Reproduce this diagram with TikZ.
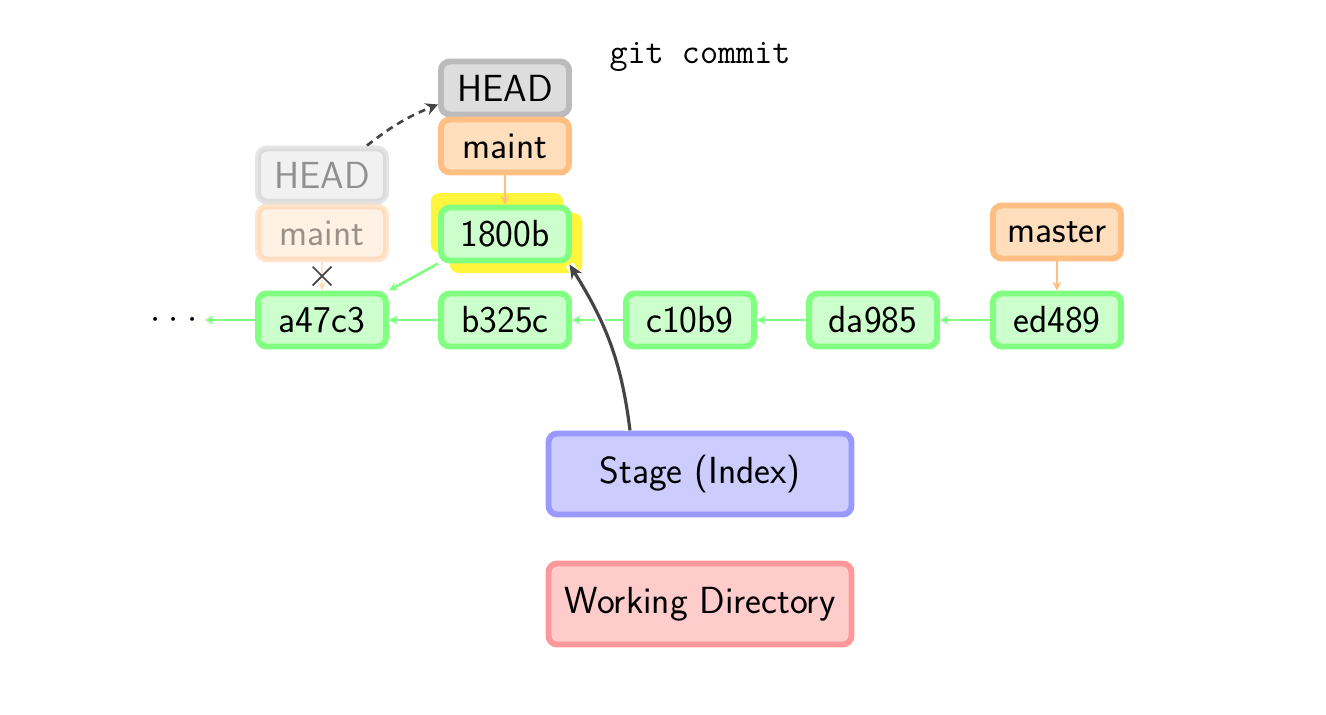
\documentclass[tikz,border=0pt]{standalone}
\usepackage{fontspec}
\usetikzlibrary{arrows.meta,shapes.misc}

\definecolor{commitline}{RGB}{128,255,128}
\definecolor{commitfill}{RGB}{204,255,204}
\definecolor{branchline}{RGB}{255,190,130}
\definecolor{branchfill}{RGB}{255,222,190}
\definecolor{headline}{RGB}{187,187,187}
\definecolor{headfill}{RGB}{221,221,221}
\definecolor{stageline}{RGB}{153,153,255}
\definecolor{stagefill}{RGB}{204,204,255}
\definecolor{workline}{RGB}{255,153,153}
\definecolor{workfill}{RGB}{255,204,204}
\definecolor{glowyellow}{RGB}{255,245,60}
\definecolor{darkarrow}{RGB}{68,68,68}

\tikzset{
    commit/.style={draw=commitline, fill=commitfill, line width=3.4pt, rounded corners=5pt,
        minimum width=2.56cm, minimum height=1.06cm, font=\sffamily\fontsize{21.5}{24}\selectfont},
    branch/.style={commit, draw=branchline, fill=branchfill},
    headbox/.style={commit, draw=headline, fill=headfill},
    glow/.style={fill=glowyellow, rounded corners=5pt, minimum width=2.65cm, minimum height=1.2cm},
    area/.style={commit, minimum width=6.06cm, minimum height=1.62cm},
    parentarrow/.style={-{Stealth[length=5pt,width=5pt]}, draw=commitline, line width=1.5pt},
    brancharrow/.style={-{Stealth[length=5pt,width=5pt]}, draw=branchline, line width=1.5pt},
}

\begin{document}
\begin{tikzpicture}
    \useasboundingbox (0,0) rectangle (26.52,-14.28);

    % === 指令 ===
    \node[font=\ttfamily\fontsize{20}{22}\selectfont] (cmd) at (14.0,-1.14) {git commit};

    % === 新 commit 的黃色光暈 ===
    \node[glow] (glowa) at (9.94,-4.46) {};
    \node[glow] (glowb) at (10.32,-4.86) {};

    % === commit 鏈 ===
    \node[commit] (a47c3) at (6.44,-6.40) {a47c3};
    \node[commit] (b325c) at (10.10,-6.40) {b325c};
    \node[commit] (c10b9) at (13.80,-6.40) {c10b9};
    \node[commit] (da985) at (17.46,-6.40) {da985};
    \node[commit] (ed489) at (21.14,-6.40) {ed489};
    \node[commit] (c1800b) at (10.10,-4.68) {1800b};
    \node[font=\fontsize{21}{24}\selectfont] (dots) at (3.48,-6.40)
        {$\cdot$\hspace{5pt}$\cdot$\hspace{5pt}$\cdot$};
    \coordinate (dotsend) at (4.10,-6.40);

    \draw[parentarrow] (a47c3) -- (dotsend);
    \draw[parentarrow] (b325c) -- (a47c3);
    \draw[parentarrow] (c10b9) -- (b325c);
    \draw[parentarrow] (da985) -- (c10b9);
    \draw[parentarrow] (ed489) -- (da985);
    \draw[parentarrow] (c1800b.south west) -- (a47c3.north east);

    % === 分支 ===
    \node[branch] (master) at (21.14,-4.64) {master};
    \draw[brancharrow] (master) -- (ed489);

    % 舊的 HEAD / maint (淡化)
    \begin{scope}[opacity=0.4]
        \node[headbox] (oldHEAD) at (6.44,-3.50) {HEAD};
        \node[branch] (oldmaint) at (6.44,-4.66) {maint};
        \draw[brancharrow] (oldmaint) -- (a47c3);
    \end{scope}
    \node[cross out, draw=darkarrow, line width=1pt, minimum size=0.34cm, inner sep=0pt] (cross) at (6.44,-5.52) {};

    % 新的 HEAD / maint
    \node[headbox] (newHEAD) at (10.10,-1.76) {HEAD};
    \node[branch] (newmaint) at (10.10,-2.92) {maint};
    \draw[brancharrow] (newmaint) -- (c1800b);

    \draw[-{Stealth[length=7pt,width=7pt]}, darkarrow, line width=1.5pt, dashed, dash pattern=on 4pt off 3pt]
        ([xshift=0.9cm]oldHEAD.north) to[bend left=8] ([yshift=0.26cm]newHEAD.south west);

    % === Stage 與 Working Directory ===
    \node[area, draw=stageline, fill=stagefill] (stage) at (14.0,-9.48) {Stage (Index)};
    \node[area, draw=workline, fill=workfill] (work) at (14.0,-12.08) {Working Directory};

    \draw[-{Stealth[length=8pt,width=7pt]}, darkarrow, line width=1.8pt,
          preaction={draw, white, line width=5pt, -}]
        ([xshift=-1.4cm]stage.north) to[out=97, in=-58] ([xshift=-0.05cm,yshift=-0.02cm]c1800b.south east);
\end{tikzpicture}
\end{document}
